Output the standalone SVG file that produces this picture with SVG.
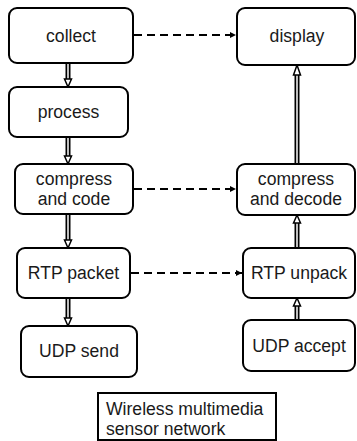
<svg xmlns="http://www.w3.org/2000/svg" width="357" height="441" viewBox="0 0 357 441">
<defs>
<style>
.box{fill:#fff;stroke:#000;stroke-width:2}
.t{font-family:"Liberation Sans",Arial,sans-serif;font-size:17.6px;fill:#1a1a1a;text-anchor:middle}
.tl{font-family:"Liberation Sans",Arial,sans-serif;font-size:17.6px;fill:#1a1a1a}
.dash{fill:none;stroke:#000;stroke-width:2;stroke-dasharray:8,5;marker-end:url(#ah)}
.dblo{fill:none;stroke:#000;stroke-width:5}
.dbli{fill:none;stroke:#fff;stroke-width:1.5}
.head{fill:#fff;stroke:#000;stroke-width:1.5;stroke-linejoin:miter}
</style>
<marker id="ah" markerWidth="8" markerHeight="8" refX="6" refY="3" orient="auto" markerUnits="userSpaceOnUse">
<path d="M0,0 L6,3 L0,6 Z" fill="#000"/>
</marker>
</defs>
<rect width="357" height="441" fill="#fff"/>
<g id="connectors">
<path class="dash" d="M134,35 H236"/>
<path class="dash" d="M134,189 H236"/>
<path class="dash" d="M131,273 H242"/>
<g>
<path class="dblo" d="M68,64 V79"/><path class="dbli" d="M68,64 V80"/>
<path class="head" d="M64.5,79 L71.5,79 L68,87 Z"/>
</g>
<g>
<path class="dblo" d="M68,138 V156"/><path class="dbli" d="M68,138 V157"/>
<path class="head" d="M64.5,156 L71.5,156 L68,164 Z"/>
</g>
<g>
<path class="dblo" d="M68,215 V240"/><path class="dbli" d="M68,215 V241"/>
<path class="head" d="M64.5,240 L71.5,240 L68,248 Z"/>
</g>
<g>
<path class="dblo" d="M68,299 V318"/><path class="dbli" d="M68,299 V319"/>
<path class="head" d="M64.5,318 L71.5,318 L68,326 Z"/>
</g>
<g>
<path class="dblo" d="M297,319 V306"/><path class="dbli" d="M297,319 V305"/>
<path class="head" d="M293.5,306 L300.5,306 L297,298 Z"/>
</g>
<g>
<path class="dblo" d="M297,247 V223"/><path class="dbli" d="M297,247 V222"/>
<path class="head" d="M293.5,223 L300.5,223 L297,215 Z"/>
</g>
<g>
<path class="dblo" d="M297,163 V75"/><path class="dbli" d="M297,163 V74"/>
<path class="head" d="M293.5,75 L300.5,75 L297,65 Z"/>
</g>
</g>
<g id="collect"><rect class="box" x="9" y="8" width="124" height="55" rx="8"/><text class="t" x="71" y="42">collect</text></g>
<g id="process"><rect class="box" x="9" y="87" width="119" height="50" rx="8"/><text class="t" x="68.5" y="118">process</text></g>
<g id="compress-code"><rect class="box" x="15" y="164" width="118" height="50" rx="8"/><text class="t" x="74" y="185">compress</text><text class="t" x="74" y="205">and code</text></g>
<g id="rtp-packet"><rect class="box" x="17" y="248" width="113" height="50" rx="8"/><text class="t" x="73.5" y="279">RTP packet</text></g>
<g id="udp-send"><rect class="box" x="21" y="326" width="116" height="51" rx="8"/><text class="t" x="79" y="357">UDP send</text></g>
<g id="display"><rect class="box" x="237" y="8" width="118" height="57" rx="8"/><text class="t" x="297" y="42">display</text></g>
<g id="compress-decode"><rect class="box" x="237" y="164" width="118" height="51" rx="8"/><text class="t" x="296" y="185">compress</text><text class="t" x="296" y="205">and decode</text></g>
<g id="rtp-unpack"><rect class="box" x="243" y="248" width="112" height="50" rx="8"/><text class="t" x="299" y="279">RTP unpack</text></g>
<g id="udp-accept"><rect class="box" x="243" y="320" width="112" height="51" rx="8"/><text class="t" x="299" y="352">UDP accept</text></g>
<g id="wmsn"><rect x="98" y="393" width="178" height="47" fill="#fff" stroke="#000" stroke-width="2"/><text class="tl" x="106" y="415">Wireless multimedia</text><text class="tl" x="106" y="435">sensor network</text></g>
</svg>
